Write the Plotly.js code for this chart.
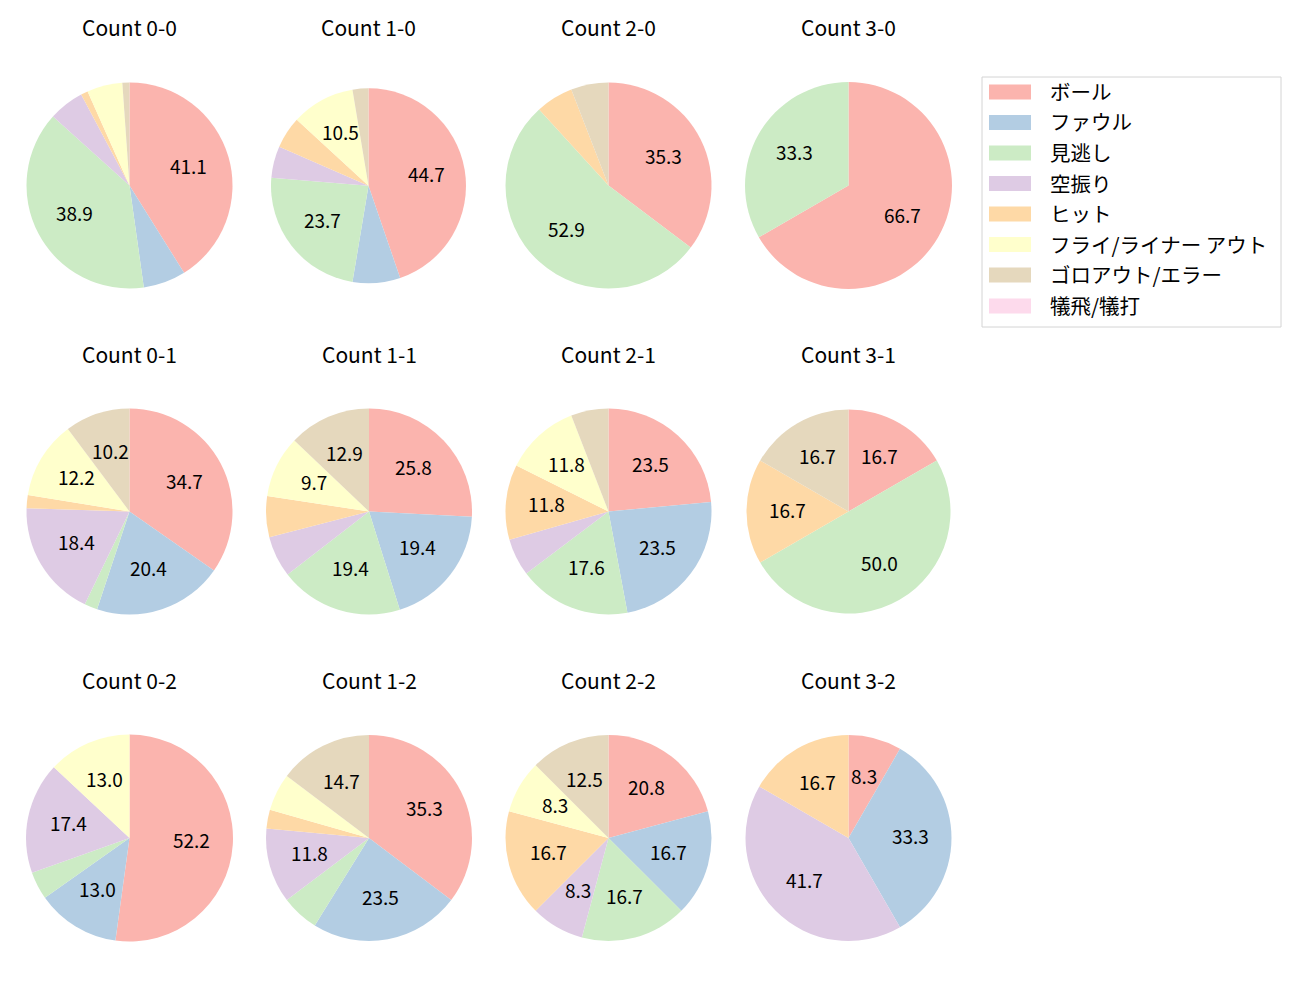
<!DOCTYPE html>
<html>
<head>
<meta charset="utf-8">
<script src="https://cdn.plot.ly/plotly-3.0.1.min.js"></script>
<style>html,body{margin:0;padding:0;background:#fff;}#chart{width:1300px;height:1000px;}</style>
</head>
<body>
<div id="chart"></div>
<script>
// ---- data ----
const categories = ['ボール','ファウル','見逃し','空振り','ヒット','フライ/ライナー アウト','ゴロアウト/エラー','犠飛/犠打'];
const countLabels = ['0-0','1-0','2-0','3-0','0-1','1-1','2-1','3-1','0-2','1-2','2-2','3-2'];
const c00 = [37, 6, 35, 5, 1, 5, 1, 0];
const c10 = [17, 3, 9, 2, 2, 4, 1, 0];
const c20 = [6, 0, 9, 0, 1, 0, 1, 0];
const c30 = [2, 0, 1, 0, 0, 0, 0, 0];
const c01 = [17, 10, 1, 9, 1, 6, 5, 0];
const c11 = [8, 6, 6, 2, 2, 3, 4, 0];
const c21 = [4, 4, 3, 1, 2, 2, 1, 0];
const c31 = [1, 0, 3, 0, 1, 0, 1, 0];
const c02 = [12, 3, 1, 4, 0, 3, 0, 0];
const c12 = [12, 8, 2, 4, 1, 2, 5, 0];
const c22 = [5, 4, 4, 2, 4, 2, 3, 0];
const c32 = [1, 4, 0, 5, 2, 0, 0, 0];
const seriesList = [c00, c10, c20, c30, c01, c11, c21, c31, c02, c12, c22, c32];
const colors = ['#fbb4ae','#b3cde3','#ccebc5','#decbe4','#fed9a6','#ffffcc','#e5d8bd','#fddaec'];

// ---- layout constants (pixels) ----
const W = 1300, H = 1000;
const colX = [129.5, 369, 608.5, 848.5];
const rowY = [185.5, 511.5, 838];
const titleY = [27, 354, 680];
const radii = [103, 97.5, 103, 103.5, 103, 103, 103, 102, 103.5, 103, 103, 103];
const FONT = '"Noto Sans CJK JP", "Noto Sans", sans-serif';

const traces = [];
const annotations = [];
const shapes = [];

seriesList.forEach((vals, i) => {
  const col = i % 4, row = Math.floor(i / 4);
  let cx = colX[col], cy = rowY[row];
  if (i === 1) { cx = 368.5; cy = 185.8; }
  const r = radii[i];
  traces.push({
    type: 'pie',
    values: vals,
    labels: categories,
    marker: {colors: colors, line: {width: 0}},
    sort: false,
    direction: 'clockwise',
    rotation: 0,
    textinfo: 'none',
    hoverinfo: 'label+percent',
    showlegend: false,
    domain: {x: [(cx - r) / W, (cx + r) / W], y: [1 - (cy + r) / H, 1 - (cy - r) / H]}
  });
  annotations.push({
    text: 'Count ' + countLabels[i], xref: 'paper', yref: 'paper',
    x: cx / W, y: 1 - titleY[row] / H, xanchor: 'center', yanchor: 'middle',
    showarrow: false, font: {family: FONT, size: 21, color: '#000'}
  });
  const total = vals.reduce((a, b) => a + b, 0);
  let cum = 0;
  vals.forEach((v) => {
    const pct = v / total * 100;
    const mid = (cum + v / 2) / total * 2 * Math.PI;
    cum += v;
    if (pct > 8) {
      const px = cx + 0.6 * r * Math.sin(mid);
      const py = cy - 0.6 * r * Math.cos(mid) - 2.5;
      annotations.push({
        text: pct.toFixed(1), xref: 'paper', yref: 'paper',
        x: px / W, y: 1 - py / H, xanchor: 'center', yanchor: 'middle',
        showarrow: false, font: {family: FONT, size: 19, color: '#000'}
      });
    }
  });
});

// ---- custom legend ----
const legX0 = 982, legY0 = 77, legX1 = 1281, legY1 = 327;
const itemY = [92, 122.5, 153, 183.5, 214, 244.5, 275, 306];
shapes.push({type: 'rect', xref: 'paper', yref: 'paper',
  x0: legX0 / W, x1: legX1 / W, y0: 1 - legY1 / H, y1: 1 - legY0 / H,
  line: {color: '#d4d4d4', width: 1}, fillcolor: 'rgba(255,255,255,0.8)'});
categories.forEach((name, k) => {
  const y = itemY[k];
  shapes.push({type: 'rect', xref: 'paper', yref: 'paper',
    x0: 989 / W, x1: 1031 / W, y0: 1 - (y + 7.5) / H, y1: 1 - (y - 7.5) / H,
    line: {width: 0}, fillcolor: colors[k]});
  annotations.push({
    text: name, xref: 'paper', yref: 'paper',
    x: 1048 / W, y: 1 - (y - 1) / H, xanchor: 'left', yanchor: 'middle',
    showarrow: false, font: {family: FONT, size: 20.5, color: '#000'}
  });
});

const layout = {
  width: W, height: H,
  margin: {l: 0, r: 0, t: 0, b: 0},
  paper_bgcolor: '#fff',
  showlegend: false,
  annotations: annotations,
  shapes: shapes
};
Plotly.newPlot('chart', traces, layout, {displayModeBar: false, staticPlot: true});
</script>
</body>
</html>
